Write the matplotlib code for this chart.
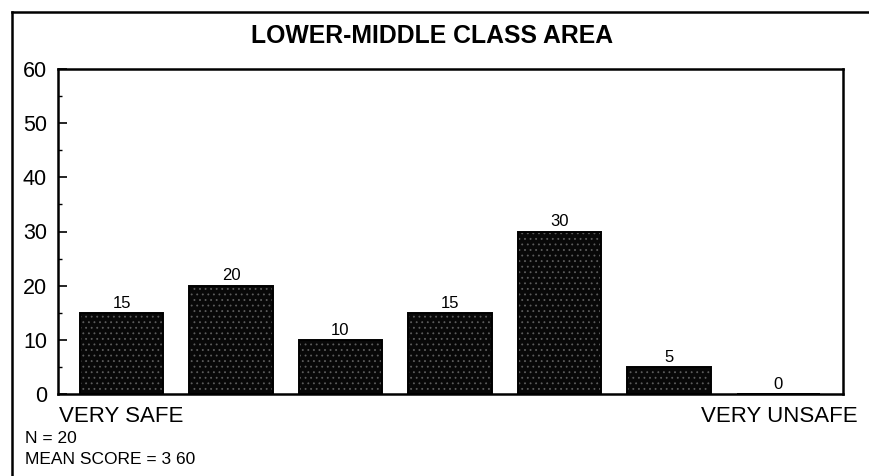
import matplotlib.pyplot as plt
from matplotlib.lines import Line2D

plt.rcParams['font.family'] = ['Liberation Sans', 'DejaVu Sans']

categories = [1, 2, 3, 4, 5, 6, 7]
percents = [15, 20, 10, 15, 30, 5, 0]
title = 'LOWER-MIDDLE CLASS AREA'
yticks = [0, 10, 20, 30, 40, 50, 60]
n_text = 'N = 20'
mean_text = 'MEAN SCORE = 3 60'

W, H = 869, 476
fig = plt.figure(figsize=(W / 100, H / 100), dpi=100)
ax = fig.add_axes([58 / W, 1 - 394 / H, (843 - 58) / W, (394 - 69) / H])

x = [c - 1 for c in categories]
# stippled dark fill, then a black outline on top
plt.rcParams['hatch.linewidth'] = 0.6
ax.bar(x, percents, width=0.765, color='#080808', edgecolor='#5c5c5c',
       linewidth=0, hatch='...', zorder=2)
ax.bar(x, percents, width=0.765, fill=False, edgecolor='black',
       linewidth=1.4, zorder=3)

for xi, v in zip(x, percents):
    ax.text(xi, v + 0.4, str(v), ha='center', va='bottom', fontsize=12)

ax.set_xlim(-0.58, 6.59)
ax.set_ylim(0, 60)
ax.set_xticks([])
ax.set_yticks(yticks)
ax.set_yticks(range(5, 60, 10), minor=True)
ax.tick_params(axis='y', which='major', direction='in', length=6.5, width=1.2,
               labelsize=15.5, pad=8)
ax.tick_params(axis='y', which='minor', direction='in', length=3, width=1)
for s in ax.spines.values():
    s.set_linewidth(1.8)

fig.text(432 / W, 1 - 36 / H, title, ha='center', va='center',
         fontsize=17.8, fontweight='bold')
fig.text(59 / W, 1 - 422 / H, 'VERY SAFE', ha='left', va='baseline', fontsize=16)
fig.text(858 / W, 1 - 422 / H, 'VERY UNSAFE', ha='right', va='baseline', fontsize=16)
fig.text(25 / W, 1 - 443 / H, n_text, ha='left', va='baseline', fontsize=12.5)
fig.text(25 / W, 1 - 464 / H, mean_text, ha='left', va='baseline', fontsize=12.5)

# outer frame (left and top edges only)
fig.add_artist(Line2D([11.5 / W, 11.5 / W], [0, 1 - 11.5 / H], color='black', lw=1.8))
fig.add_artist(Line2D([11.5 / W, 1], [1 - 11.5 / H, 1 - 11.5 / H], color='black', lw=1.8))

fig.savefig('out.png', dpi=100)
